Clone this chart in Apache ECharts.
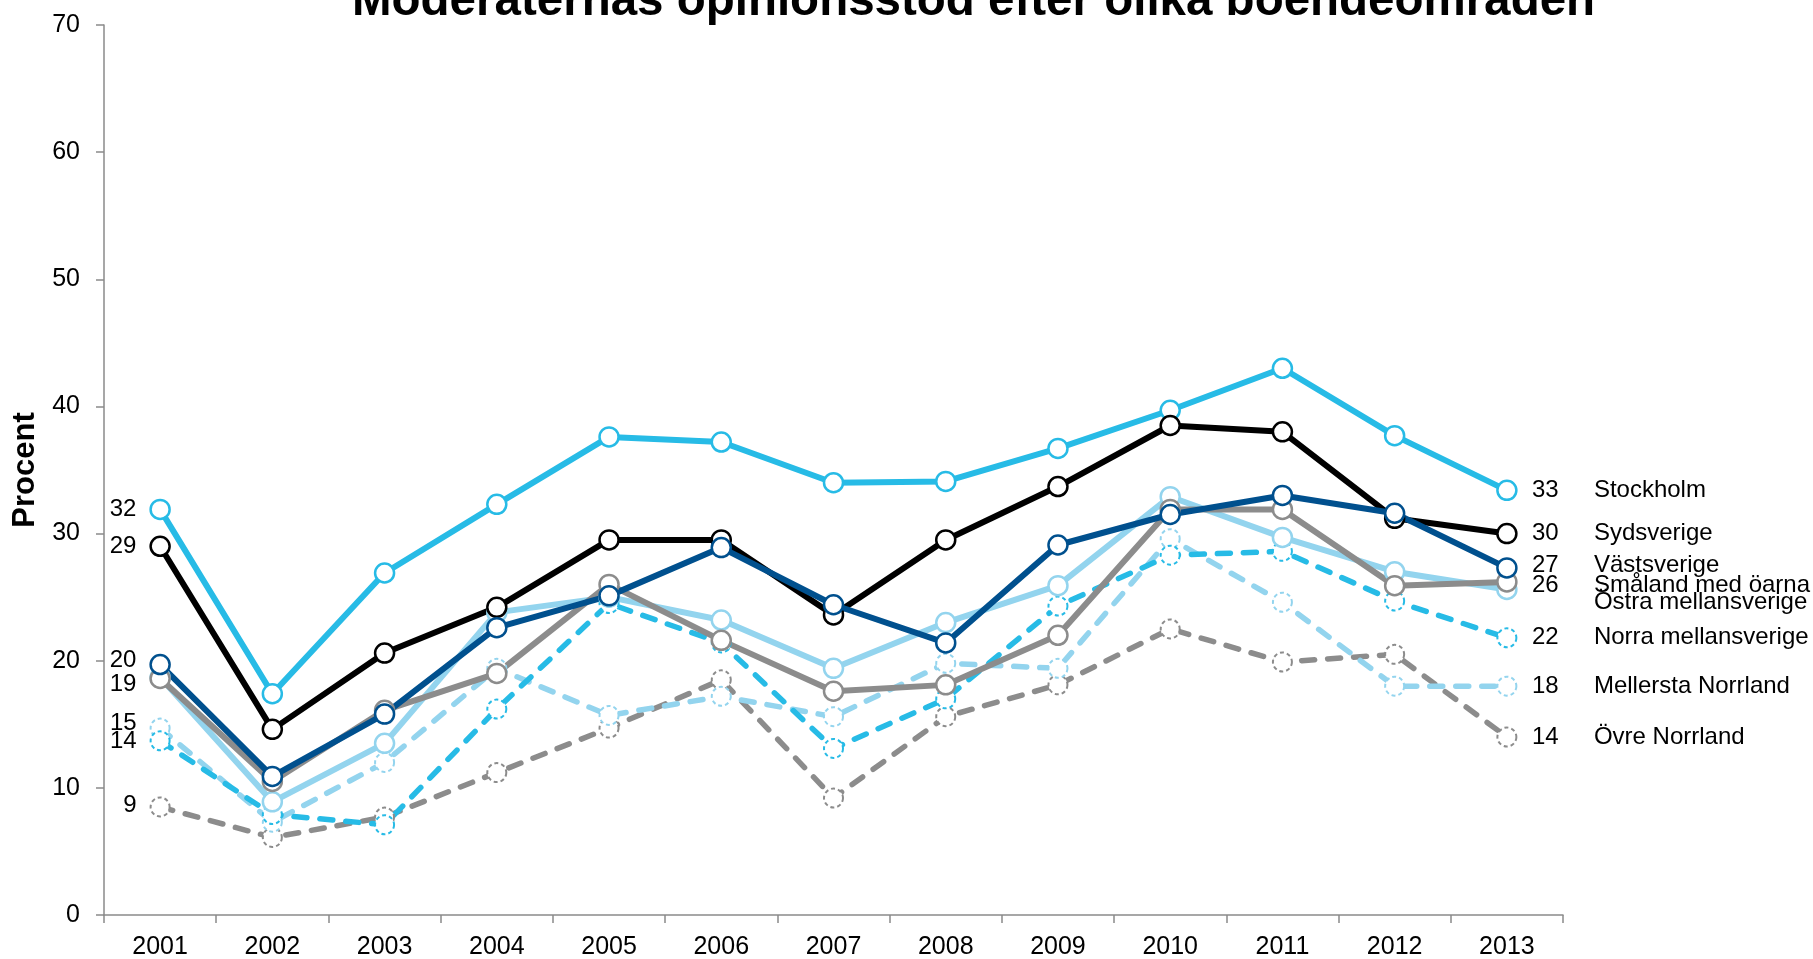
<!DOCTYPE html>
<html>
<head>
<meta charset="utf-8">
<script src="https://cdn.jsdelivr.net/npm/echarts@6/dist/echarts.min.js"></script>
<style>
  html, body { margin: 0; padding: 0; background: #fff; }
  #chart { width: 1813px; height: 959px; }
</style>
</head>
<body>
<div id="chart"></div>
<script>
// years on the x axis
const years = ['2001', '2002', '2003', '2004', '2005', '2006', '2007', '2008', '2009', '2010', '2011', '2012', '2013'];

// values (procent)
const stockholm  = [31.9, 17.4, 26.9, 32.3, 37.6, 37.2, 34.0, 34.1, 36.7, 39.7, 43.0, 37.7, 33.4];
const sydsverige = [29.0, 14.6, 20.6, 24.2, 29.5, 29.5, 23.6, 29.5, 33.7, 38.5, 38.0, 31.2, 30.0];
const vastsverige = [19.7, 10.9, 15.8, 22.6, 25.1, 28.9, 24.4, 21.4, 29.1, 31.5, 33.0, 31.6, 27.3];
const smaland    = [18.6, 10.5, 16.1, 19.0, 26.0, 21.6, 17.6, 18.1, 22.0, 31.9, 31.9, 25.9, 26.2];
const ostra      = [18.7, 8.9, 13.5, 23.8, 25.0, 23.2, 19.4, 23.0, 25.9, 32.9, 29.7, 27.0, 25.6];
const norra      = [13.7, 7.9, 7.1, 16.2, 24.5, 21.4, 13.1, 17.0, 24.3, 28.3, 28.6, 24.7, 21.8];
const mellersta  = [14.7, 7.3, 12.0, 19.4, 15.7, 17.2, 15.6, 19.8, 19.4, 29.6, 24.6, 18.0, 18.0];
const ovre       = [8.5, 6.1, 7.7, 11.2, 14.7, 18.5, 9.2, 15.6, 18.1, 22.5, 19.9, 20.5, 14.0];

const yTicks = [0, 10, 20, 30, 40, 50, 60, 70];

const FONT = '"Liberation Sans", Arial, sans-serif';

function makeSeries(name, data, color, dashed, opts) {
    opts = opts || {};
    const showValue = opts.endValue !== false;
    return {
        name: name,
        type: 'line',
        data: data,
        symbol: 'circle',
        symbolSize: 19,
        showAllSymbol: true,
        animation: false,
        lineStyle: {
            color: color,
            width: dashed ? 5.5 : 6,
            type: dashed ? [13, 13] : 'solid',
            cap: dashed ? 'round' : 'butt'
        },
        itemStyle: {
            color: '#fff',
            borderColor: color,
            borderWidth: dashed ? 2 : 2.5,
            borderType: dashed ? [4, 3] : 'solid'
        },
        emphasis: { disabled: true },
        label: {
            show: opts.leftLabel === true,
            position: 'left',
            distance: 13,
            offset: opts.leftOffset || [0, 0],
            color: '#000',
            fontFamily: FONT,
            fontSize: 24,
            formatter: function (p) {
                return p.dataIndex === 0 ? String(Math.round(p.value)) : '';
            }
        },
        endLabel: {
            show: true,
            distance: 25,
            offset: opts.endOffset || [0, 0],
            color: '#000',
            fontFamily: FONT,
            fontSize: 24,
            formatter: function (p) {
                const v = showValue ? String(Math.round(p.value)) : '';
                return '{v|' + v + '}{n|' + name + '}';
            },
            rich: {
                v: { width: 62, fontSize: 24, fontFamily: FONT, color: '#000' },
                n: { fontSize: 24, fontFamily: FONT, color: '#000' }
            }
        }
    };
}

const chart = echarts.init(document.getElementById('chart'), null, { renderer: 'canvas' });

chart.setOption({
    backgroundColor: '#fff',
    animation: false,
    title: {
        text: 'Moderaternas opinionsstöd efter olika boendeområden',
        left: 347,
        top: -27,
        textStyle: {
            fontFamily: FONT,
            fontWeight: 'bold',
            fontSize: 47.5,
            color: '#000'
        }
    },
    grid: {
        left: 104,
        right: 250,
        top: 25,
        bottom: 44,
        outerBoundsMode: 'none'
    },
    xAxis: {
        type: 'category',
        data: years,
        boundaryGap: true,
        axisLine: { lineStyle: { color: '#8a8a8a', width: 1.5 } },
        axisTick: { show: true, length: 8, lineStyle: { color: '#8a8a8a', width: 1.5 } },
        axisLabel: {
            color: '#000',
            fontFamily: FONT,
            fontSize: 25,
            margin: 20
        },
        splitLine: { show: false }
    },
    yAxis: {
        type: 'value',
        min: yTicks[0],
        max: yTicks[yTicks.length - 1],
        interval: 10,
        name: 'Procent',
        nameLocation: 'middle',
        nameGap: 62,
        nameTextStyle: {
            fontFamily: FONT,
            fontWeight: 'bold',
            fontSize: 31,
            color: '#000'
        },
        axisLine: { show: true, lineStyle: { color: '#8a8a8a', width: 1.5 } },
        axisTick: { show: true, length: 8, lineStyle: { color: '#8a8a8a', width: 1.5 } },
        axisLabel: {
            color: '#000',
            fontFamily: FONT,
            fontSize: 25,
            margin: 24
        },
        splitLine: { show: false }
    },
    series: [
        makeSeries('Övre Norrland', ovre, '#8c8c8c', true, { leftLabel: true, leftOffset: [0, -2] }),
        makeSeries('Mellersta Norrland', mellersta, '#93d4ee', true, { leftLabel: true, leftOffset: [0, -5] }),
        makeSeries('Norra mellansverige', norra, '#27bbe6', true, { leftLabel: true, leftOffset: [0, 1] }),
        makeSeries('Östra mellansverige', ostra, '#93d4ee', false, { endValue: false, endOffset: [0, 13] }),
        makeSeries('Småland med öarna', smaland, '#8c8c8c', false, { leftLabel: true, leftOffset: [0, 6], endOffset: [0, 3] }),
        makeSeries('Stockholm', stockholm, '#27bbe6', false, { leftLabel: true }),
        makeSeries('Sydsverige', sydsverige, '#000000', false, { leftLabel: true }),
        makeSeries('Västsverige', vastsverige, '#00508e', false, { leftLabel: true, leftOffset: [0, -4], endOffset: [0, -3] })
    ]
});
</script>
</body>
</html>
